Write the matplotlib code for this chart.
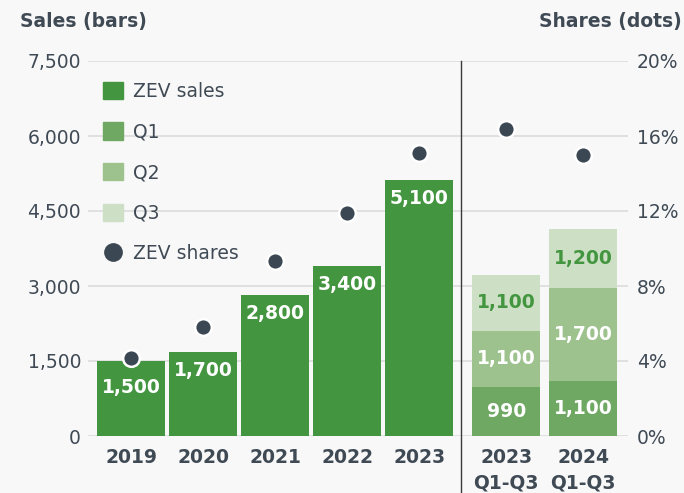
import matplotlib
matplotlib.use("Agg")
import matplotlib.pyplot as plt
from matplotlib.patches import Patch
from matplotlib.lines import Line2D
import numpy as np

# ---- data ----
years = ["2019", "2020", "2021", "2022", "2023"]
annual_sales = [1510, 1690, 2830, 3410, 5130]
annual_labels = ["1,500", "1,700", "2,800", "3,400", "5,100"]
annual_share = [4.15, 5.8, 9.35, 11.9, 15.1]

ytd_periods = ["2023\nQ1-Q3", "2024\nQ1-Q3"]
q1_sales = [990, 1100]
q2_sales = [1115, 1860]
q3_sales = [1120, 1180]
q1_labels = ["990", "1,100"]
q2_labels = ["1,100", "1,700"]
q3_labels = ["1,100", "1,200"]
ytd_share = [16.4, 15.0]

# ---- style ----
BG = "#f8f8f8"
TXT = "#3f4a55"
GREEN = "#43963f"
C_Q1 = "#6fa862"
C_Q2 = "#9dc28e"
C_Q3 = "#cde0c6"
DOT = "#3b4753"
GRID = "#dcdcdc"
FS = 13.5
plt.rcParams["font.family"] = ["DejaVu Sans"]

fig = plt.figure(figsize=(6.84, 4.93), dpi=100, facecolor=BG)
ax = fig.add_axes([88/684, 1-436/493, 540/684, 375/493])
ax.set_facecolor(BG)
ax2 = ax.twinx()

x_ann = np.arange(len(years))
x_ytd = np.array([5.21, 6.28])
W = 0.944

ax.set_xlim(-0.6, 6.9)
ax.set_ylim(0, 7500)
ax2.set_ylim(0, 20)

ax.set_yticks(np.arange(0, 7501, 1500))
ax.set_yticklabels([f"{v:,}" for v in range(0, 7501, 1500)])
ax2.set_yticks(np.arange(0, 21, 4))
ax2.set_yticklabels([f"{v}%" for v in range(0, 21, 4)])
ax.grid(axis="y", color=GRID, linewidth=1.2, zorder=0)
ax.set_axisbelow(True)
for a in (ax, ax2):
    for s in a.spines.values():
        s.set_visible(False)
ax.tick_params(axis="y", length=0, pad=5, labelsize=FS, labelcolor=TXT)
ax2.tick_params(axis="y", length=0, pad=6.5, labelsize=FS, labelcolor=TXT)
ax.set_xticks(list(x_ann) + list(x_ytd))
ax.set_xticklabels(years + ytd_periods, fontweight="bold", fontsize=FS,
                   color=TXT, linespacing=1.45)
ax.tick_params(axis="x", length=0, pad=8.5)

# annual bars
bars = ax.bar(x_ann, annual_sales, width=W, color=GREEN, zorder=2)
for i, (b, lab) in enumerate(zip(bars, annual_labels)):
    off = -27 if i == 0 else -19
    ax.annotate(lab, (b.get_x() + b.get_width()/2, b.get_height()),
                xytext=(0, off * 0.72), textcoords="offset points",
                ha="center", va="center", color="white", fontweight="bold",
                fontsize=FS, zorder=5)

# stacked bars
b1 = ax.bar(x_ytd, q1_sales, width=W, color=C_Q1, zorder=2)
b2 = ax.bar(x_ytd, q2_sales, width=W, bottom=q1_sales, color=C_Q2, zorder=2)
bot3 = np.array(q1_sales) + np.array(q2_sales)
b3 = ax.bar(x_ytd, q3_sales, width=W, bottom=bot3, color=C_Q3, zorder=2)
for grp, labs, col in ((b1, q1_labels, "white"), (b2, q2_labels, "white"),
                       (b3, q3_labels, GREEN)):
    for b, lab in zip(grp, labs):
        ax.text(b.get_x() + b.get_width()/2, b.get_y() + b.get_height()/2, lab,
                ha="center", va="center", color=col, fontweight="bold",
                fontsize=FS, zorder=5)

# separator
ax.axvline(4.58, ymin=-0.155, ymax=1.0, color="#3a3a3a", linewidth=1.0,
           clip_on=False, zorder=3)

# share dots
ax2.plot(list(x_ann) + list(x_ytd), annual_share + ytd_share, "o", ls="none",
         color=DOT, markersize=12, markeredgecolor="white", markeredgewidth=1.8,
         zorder=6)

# legend
handles = [Patch(color=GREEN), Patch(color=C_Q1), Patch(color=C_Q2),
           Patch(color=C_Q3),
           Line2D([], [], marker="o", ls="none", color=DOT, markersize=13.5,
                  markeredgewidth=0)]
labels = ["ZEV sales", "Q1", "Q2", "Q3", "ZEV shares"]
leg = ax2.legend(handles, labels, loc="upper left", bbox_to_anchor=(0.028, 0.945),
                 frameon=False, fontsize=FS, labelcolor=TXT, borderpad=0,
                 borderaxespad=0, handlelength=1.05, handleheight=1.05,
                 handletextpad=0.55, labelspacing=1.15)
leg.set_zorder(10)

fig.text(20/684, 1-22/493, "Sales (bars)", ha="left", va="center",
         fontweight="bold", fontsize=FS, color=TXT)
fig.text(682/684, 1-22/493, "Shares (dots)", ha="right", va="center",
         fontweight="bold", fontsize=FS, color=TXT)

fig.savefig("out.png", dpi=100, facecolor=BG)
